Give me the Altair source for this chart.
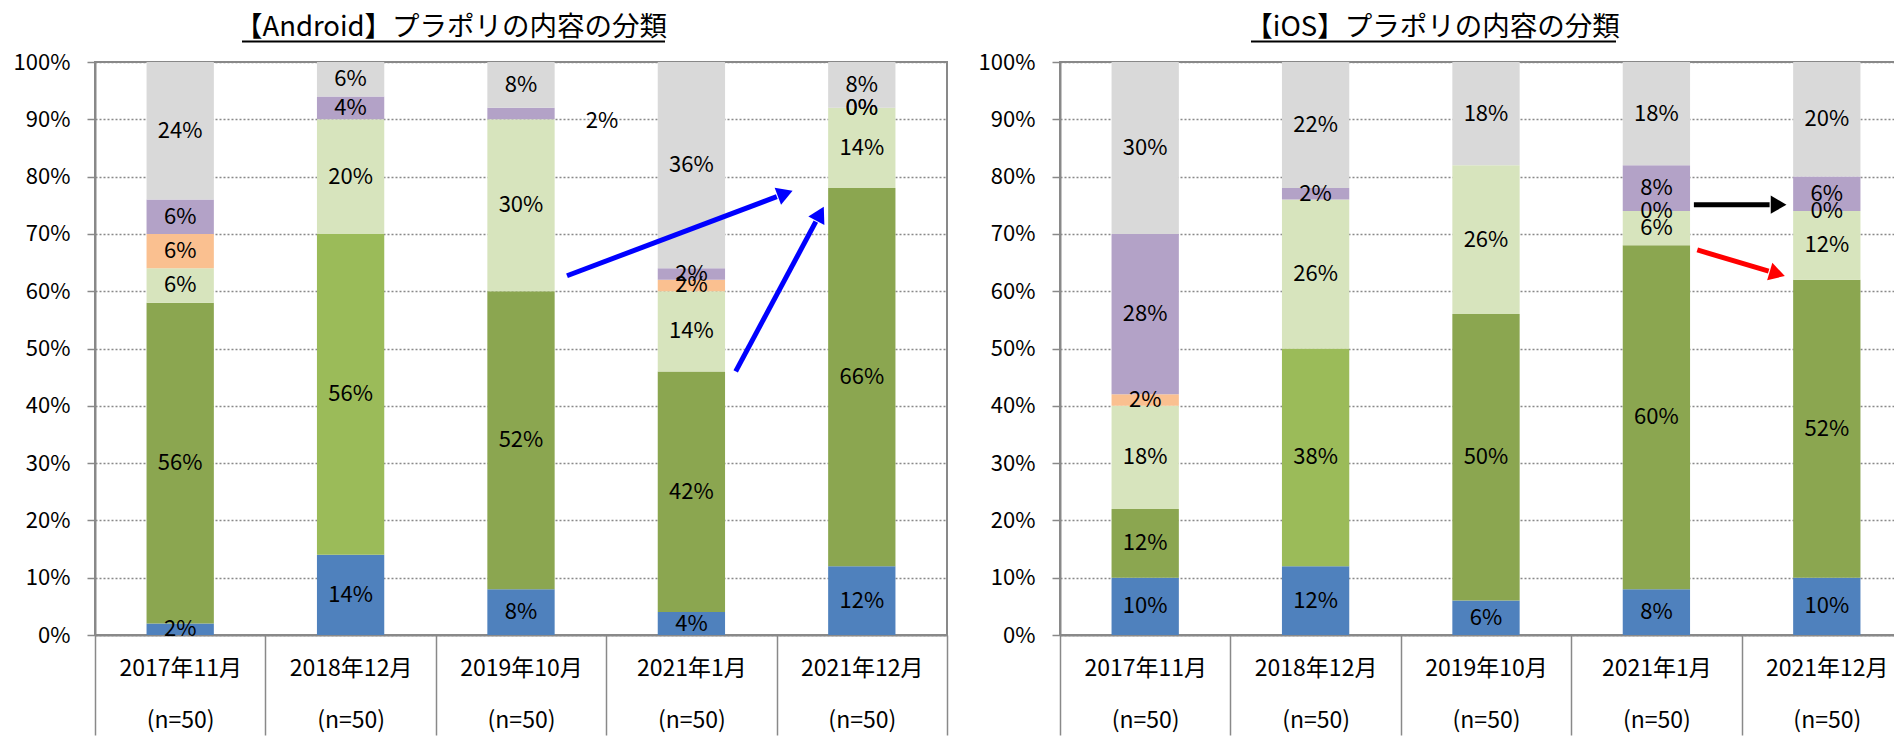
import math
import altair as alt
import pandas as pd

FONT = "Noto Sans CJK JP"

# ---------------- data ----------------
periods = ["2017年11月", "2018年12月", "2019年10月", "2021年1月", "2021年12月"]
sample_sizes = ["(n=50)", "(n=50)", "(n=50)", "(n=50)", "(n=50)"]
titles = ["【Android】プラポリの内容の分類", "【iOS】プラポリの内容の分類"]

series = ["s1", "s2", "s3", "s4", "s5", "s6", "s7"]
series_colors = ["#4F81BD", "#8BA650", "#9BBB59", "#D7E4BD", "#FAC090", "#B3A2C7", "#D9D9D9"]

android_s1 = [2, 14, 8, 4, 12]
android_s2 = [56, None, 52, 42, 66]
android_s3 = [None, 56, None, None, None]
android_s4 = [6, 20, 30, 14, 14]
android_s5 = [6, None, None, 2, 0]
android_s6 = [6, 4, 2, 2, 0]
android_s7 = [24, 6, 8, 36, 8]

ios_s1 = [10, 12, 6, 8, 10]
ios_s2 = [12, None, 50, 60, 52]
ios_s3 = [None, 38, None, None, None]
ios_s4 = [18, 26, 26, 6, 12]
ios_s5 = [2, None, None, 0, 0]
ios_s6 = [28, 2, None, 8, 6]
ios_s7 = [30, 22, 18, 18, 20]

# label drawn beside its bar: (period index, series)
android_moved_labels = [(2, "s6")]
ios_moved_labels = []

# arrows: start (band units, %) -> tip (band units, %)
android_arrow_x1 = [2.77, 3.76]
android_arrow_y1 = [62.7, 46.0]
android_arrow_x2 = [4.10, 4.28]
android_arrow_y2 = [77.6, 74.9]
android_arrow_colors = ["#0000FF", "#0000FF"]

ios_arrow_x1 = [3.72, 3.74]
ios_arrow_y1 = [75.1, 67.2]
ios_arrow_x2 = [4.27, 4.26]
ios_arrow_y2 = [75.1, 62.6]
ios_arrow_colors = ["#000000", "#FF0000"]

# ---------------- layout ----------------
W, H = 852, 573
GRAY = "#898989"
cat_labels = [f"{p}|{n}" for p, n in zip(periods, sample_sizes)]


def build_frame(values, moved):
    rows = []
    for i, cat in enumerate(cat_labels):
        base = 0
        for s, vals in zip(series, values):
            v = vals[i]
            if v is None:
                continue
            rows.append(dict(cat=cat, series=s, value=v, y0=base, y1=base + v,
                             mid=base + v / 2, text=f"{v}%",
                             moved=(i, s) in moved))
            base += v
    return pd.DataFrame(rows)


def arrow_frame(x1, y1, x2, y2, colors):
    rows = []
    head = 9.0  # px back from tip to head centre
    for a, b, c, d, col in zip(x1, y1, x2, y2, colors):
        dxp = (c - a) * W / 5
        dyp = -(d - b) * H / 100
        L = math.hypot(dxp, dyp)
        ux, uy = dxp / L, dyp / L
        hx = c - ux * head * 5 / W
        hy = d + uy * head * 100 / H
        sx = c - ux * 2 * head * 5 / W
        sy = d + uy * 2 * head * 100 / H
        ang = math.degrees(math.atan2(dyp, dxp)) % 360
        rows.append(dict(x1=a, y1=b, x2=sx, y2=sy, hx=hx, hy=hy, ang=ang, color=col))
    return pd.DataFrame(rows)


def panel(values, moved, arrows, title, title_x, ul):
    df = build_frame(values, moved)
    xs = alt.Scale(domain=cat_labels, paddingInner=0, paddingOuter=0)
    ys = alt.Scale(domain=[0, 100], nice=False)
    x_axis = alt.Axis(title=None,
                      labelExpr="isValid(datum.value) ? split(datum.value, '|') : ''",
                      tickBand="extent", tickSize=100, tickColor=GRAY, tickWidth=1.5,
                      domainColor=GRAY, domainWidth=2, labelFontSize=23, labelFont=FONT,
                      labelLineHeight=52, labelBaseline="top", labelPadding=-78,
                      labelAngle=0, labelColor="black", grid=False)
    y_axis = alt.Axis(title=None, values=list(range(0, 101, 10)), labelExpr="datum.value + '%'",
                      grid=True, gridColor=GRAY, gridDash=[2, 2], gridWidth=1.3,
                      tickSize=8, tickColor=GRAY, tickWidth=1.5, domainColor=GRAY,
                      domainWidth=2, labelFontSize=22, labelFont=FONT, labelColor="black",
                      labelPadding=17, labelOverlap=False)
    base = alt.Chart(df)
    bars = base.mark_bar(width=alt.RelativeBandSize(0.395)).encode(
        x=alt.X("cat:N", scale=xs, axis=x_axis),
        y=alt.Y("y0:Q", scale=ys, axis=y_axis),
        y2="y1:Q",
        color=alt.Color("series:N", scale=alt.Scale(domain=series, range=series_colors), legend=None),
    )
    labels = base.transform_filter("!datum.moved").mark_text(
        font=FONT, fontSize=22, color="black", baseline="middle").encode(
        x=alt.X("cat:N", scale=xs), y=alt.Y("mid:Q", scale=ys), text="text:N")
    moved_labels = base.transform_filter("datum.moved").mark_text(
        font=FONT, fontSize=22, color="black", baseline="middle", dx=81, dy=7).encode(
        x=alt.X("cat:N", scale=xs), y=alt.Y("mid:Q", scale=ys), text="text:N")
    tdf = pd.DataFrame({"title": [title]})
    ttl = alt.Chart(tdf).mark_text(font=FONT, fontSize=27.5, fontWeight="normal", color="black",
                                   align="center", baseline="alphabetic").encode(
        text="title:N", x=alt.value(title_x), y=alt.value(-26.5))
    underline = alt.Chart(tdf).mark_rule(color="black", strokeWidth=2).encode(
        x=alt.value(ul[0]), x2=alt.value(ul[1]), y=alt.value(-20.5))
    adf = arrow_frame(*arrows)
    xq = alt.Scale(domain=[0, 5], nice=False, zero=False)
    shafts = alt.Chart(adf).mark_rule(strokeWidth=5).encode(
        x=alt.X("x1:Q", scale=xq, axis=None), x2="x2:Q",
        y=alt.Y("y1:Q", scale=ys), y2="y2:Q",
        color=alt.Color("color:N", scale=None))
    heads = alt.Chart(adf).mark_point(shape="triangle-right", filled=True, size=330, opacity=1).encode(
        x=alt.X("hx:Q", scale=xq, axis=None), y=alt.Y("hy:Q", scale=ys),
        angle=alt.Angle("ang:Q", scale=None),
        color=alt.Color("color:N", scale=None))
    main = alt.layer(bars, labels, moved_labels, ttl, underline).properties(width=W, height=H)
    arr = alt.layer(shafts, heads)
    return alt.layer(main, arr).resolve_scale(x="independent").properties(width=W, height=H)


android_vals = [android_s1, android_s2, android_s3, android_s4, android_s5, android_s6, android_s7]
ios_vals = [ios_s1, ios_s2, ios_s3, ios_s4, ios_s5, ios_s6, ios_s7]

left = panel(android_vals, android_moved_labels,
             (android_arrow_x1, android_arrow_y1, android_arrow_x2, android_arrow_y2, android_arrow_colors),
             titles[0], 356, (147, 570))
right = panel(ios_vals, ios_moved_labels,
              (ios_arrow_x1, ios_arrow_y1, ios_arrow_x2, ios_arrow_y2, ios_arrow_colors),
              titles[1], 372.5, (191, 556))

PAD_L, PAD_T = 87, 54
chart = alt.hconcat(left, right, spacing=28).properties(
    autosize=alt.AutoSizeParams(type="none"),
    padding={"left": PAD_L, "top": PAD_T, "right": 1886 - PAD_L, "bottom": 721 - PAD_T},
    background="white",
).configure_view(stroke=GRAY, strokeWidth=2)

chart.save("out.html", embed_options={"renderer": "svg", "actions": False})
